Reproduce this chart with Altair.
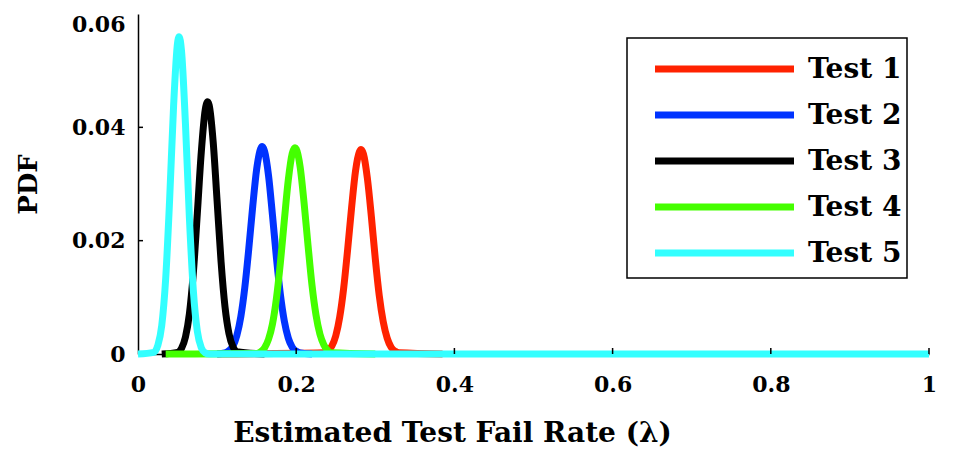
import altair as alt
import pandas as pd

series = ["Test 1", "Test 2", "Test 3", "Test 4", "Test 5"]
colors = ["#FF2200", "#0033FF", "#000000", "#44FF00", "#33FFFF"]

t1_x = [0.10, 0.235, 0.24, 0.245, 0.25, 0.255, 0.26, 0.265, 0.27, 0.275, 0.28, 0.282, 0.285, 0.29, 0.295, 0.30, 0.305, 0.31, 0.315, 0.32, 0.325, 0.33, 0.385]
t1_y = [0.0, 0.0002, 0.0006, 0.0014, 0.0032, 0.0065, 0.0116, 0.0184, 0.0258, 0.0323, 0.0357, 0.0361, 0.0353, 0.0310, 0.0243, 0.0168, 0.0103, 0.0057, 0.0028, 0.0012, 0.0005, 0.0002, 0.0]

t2_x = [0.10, 0.11, 0.115, 0.12, 0.125, 0.13, 0.135, 0.14, 0.145, 0.15, 0.155, 0.157, 0.16, 0.165, 0.17, 0.175, 0.18, 0.185, 0.19, 0.195, 0.20, 0.205, 0.22]
t2_y = [0.0, 0.0002, 0.0006, 0.0014, 0.0033, 0.0066, 0.0117, 0.0185, 0.0260, 0.0326, 0.0362, 0.0366, 0.0358, 0.0315, 0.0245, 0.0170, 0.0105, 0.0058, 0.0028, 0.0012, 0.0005, 0.0002, 0.0]

t3_x = [0.03, 0.05, 0.055, 0.06, 0.065, 0.07, 0.075, 0.08, 0.085, 0.088, 0.09, 0.095, 0.10, 0.105, 0.11, 0.115, 0.12, 0.125, 0.16]
t3_y = [0.0, 0.0003, 0.0010, 0.0030, 0.0071, 0.0144, 0.0248, 0.0356, 0.0431, 0.0445, 0.0439, 0.0375, 0.0270, 0.0163, 0.0083, 0.0036, 0.0013, 0.0004, 0.0]

t4_x = [0.035, 0.15, 0.155, 0.16, 0.165, 0.17, 0.175, 0.18, 0.185, 0.19, 0.195, 0.1985, 0.20, 0.205, 0.21, 0.215, 0.22, 0.225, 0.23, 0.235, 0.24, 0.245, 0.30]
t4_y = [0.0, 0.0001, 0.0004, 0.0011, 0.0026, 0.0053, 0.0098, 0.0161, 0.0236, 0.0307, 0.0354, 0.0364, 0.0362, 0.0330, 0.0266, 0.0191, 0.0121, 0.0069, 0.0035, 0.0016, 0.0006, 0.0002, 0.0]

t5_x = [0.0, 0.02, 0.025, 0.03, 0.035, 0.04, 0.045, 0.05, 0.052, 0.055, 0.06, 0.065, 0.07, 0.075, 0.08, 0.085, 0.09, 1.0]
t5_y = [0.0, 0.0003, 0.0015, 0.0050, 0.0133, 0.0273, 0.0438, 0.0549, 0.0560, 0.0535, 0.0406, 0.0240, 0.0111, 0.0040, 0.0011, 0.0002, 0.0, 0.0]

x_ticks = [0.2, 0.4, 0.6, 0.8, 1.0]
y_ticks = [0.02, 0.04]

rows = []
for name, xs, ys in zip(series, [t1_x, t2_x, t3_x, t4_x, t5_x], [t1_y, t2_y, t3_y, t4_y, t5_y]):
    for i, (a, b) in enumerate(zip(xs, ys)):
        rows.append({"series": name, "i": i, "x": a, "y": b})
df = pd.DataFrame(rows)

FONT = "DejaVu Serif"
xscale = alt.Scale(domain=[0, 1], nice=False)
yscale = alt.Scale(domain=[0, 0.06], nice=False)
cscale = alt.Scale(domain=series, range=colors)

x_axis = alt.Axis(
    values=[0, 0.2, 0.4, 0.6, 0.8, 1.0], labelExpr="format(datum.value, '~g')",
    title="Estimated Test Fail Rate (λ)", grid=False, ticks=False,
    domainColor="black", domainWidth=1.5,
    labelFont=FONT, labelFontSize=22, labelFontWeight="bold", labelColor="black",
    labelPadding=20, labelFlush=False,
    titleFont=FONT, titleFontSize=28, titleFontWeight="bold", titleColor="black",
    titleX=314, titleY=87, titleBaseline="alphabetic", titleAlign="center")
y_axis = alt.Axis(
    values=[0, 0.02, 0.04, 0.06], labelExpr="datum.value == 0 ? '0' : format(datum.value, '.2f')",
    title="PDF", grid=False, ticks=False,
    domainColor="black", domainWidth=1.5,
    labelFont=FONT, labelFontSize=22, labelFontWeight="bold", labelColor="black",
    labelBaseline={"condition": {"test": "datum.value >= 0.059", "value": "top"}, "value": "middle"},
    labelPadding=13, labelFlush=False,
    titleFont=FONT, titleFontSize=26, titleFontWeight="bold", titleColor="black",
    titlePadding=30)

base = alt.Chart(df).mark_line(strokeWidth=7, interpolate="monotone", strokeCap="butt").encode(
    x=alt.X("x:Q", scale=xscale, axis=x_axis),
    y=alt.Y("y:Q", scale=yscale, axis=y_axis),
    color=alt.Color("series:N", scale=cscale, legend=None),
    detail="series:N",
    order="i:Q",
)
# draw order: Test 1 first, Test 5 on top
line_layers = [base.transform_filter(alt.datum.series == s) for s in series]

xt = alt.Chart(pd.DataFrame({"v": x_ticks})).mark_rule(color="black", strokeWidth=1.5).encode(
    x=alt.X("v:Q", scale=xscale), y=alt.value(340), y2=alt.value(334))
yt = alt.Chart(pd.DataFrame({"v": y_ticks})).mark_rule(color="black", strokeWidth=1.5).encode(
    y=alt.Y("v:Q", scale=yscale), x=alt.value(0), x2=alt.value(5))

main = alt.layer(*line_layers, xt, yt)

leg_df = pd.DataFrame({"series": series})
leg_y = alt.Y("series:N", scale=alt.Scale(type="point", domain=series, range=[55, 239], padding=0), axis=None)
box = alt.Chart(pd.DataFrame({"a": [1]})).mark_rect(fill="white", stroke="black", strokeWidth=1.5).encode(
    x=alt.value(489), x2=alt.value(769), y=alt.value(24), y2=alt.value(264))
leg_lines = alt.Chart(leg_df).mark_rule(strokeWidth=7).encode(
    x=alt.value(517), x2=alt.value(656), y=leg_y,
    color=alt.Color("series:N", scale=cscale, legend=None))
leg_text = alt.Chart(leg_df).mark_text(align="left", baseline="middle", font=FONT, fontSize=28,
                                       fontWeight="bold", color="black", dy=1).encode(
    x=alt.value(670), y=leg_y, text="series:N")
legend = alt.layer(box, leg_lines, leg_text)

chart = alt.layer(main, legend).resolve_scale(y="independent").properties(
    width=791, height=340,
    background="white",
    autosize=alt.AutoSizeParams(type="none"),
    padding={"left": 130, "top": 6, "right": 18, "bottom": 96},
).configure_view(stroke=None)

chart.save("out.html", embed_options={"renderer": "svg", "actions": False})
